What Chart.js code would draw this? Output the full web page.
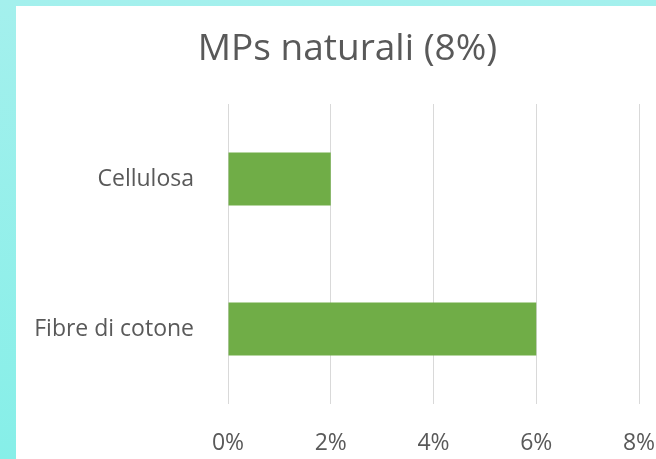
<!DOCTYPE html>
<html>
<head>
<meta charset="utf-8">
<script src="https://cdn.jsdelivr.net/npm/chart.js@4"></script>
<style>
  html, body { margin: 0; padding: 0; }
  body {
    width: 656px; height: 459px; overflow: hidden;
    background: linear-gradient(to bottom, #a4f0ed, #86efe8);
    position: relative;
  }
  #wrap {
    position: absolute; left: 16px; top: 6px;
    width: 663px; height: 453px; background: #ffffff;
  }
</style>
</head>
<body>
<div id="wrap"><canvas id="chart" width="663" height="453"></canvas></div>
<script>
// Share of natural microplastics by type (percent)
const categories = ['Cellulosa', 'Fibre di cotone'];
const shares = [2, 6];
const tickValues = [0, 2, 4, 6, 8];
const chartTitle = 'MPs naturali (8%)';

const FONT = "'Open Sans', 'DejaVu Sans', sans-serif";
const TEXT = '#595959';
const GRID = '#d9d9d9';

new Chart(document.getElementById('chart'), {
  type: 'bar',
  data: {
    labels: categories,
    datasets: [{
      data: shares,
      backgroundColor: '#70ad47',
      borderWidth: 0,
      categoryPercentage: 1,
      barPercentage: 0.353
    }]
  },
  options: {
    indexAxis: 'y',
    responsive: false,
    animation: false,
    layout: { padding: 0 },
    plugins: {
      legend: { display: false },
      tooltip: { enabled: false },
      title: {
        display: true,
        text: chartTitle,
        color: TEXT,
        font: { family: FONT, size: 37, weight: 'normal', lineHeight: 1.2 },
        padding: { top: 21, bottom: 32.6 }
      }
    },
    scales: {
      x: {
        min: 0,
        max: 8,
        afterBuildTicks: (axis) => { axis.ticks = tickValues.map(v => ({ value: v })); },
        ticks: {
          color: TEXT,
          padding: 26,
          font: { family: FONT, size: 23 },
          callback: (v) => v + '%'
        },
        grid: { color: GRID, lineWidth: 1, drawTicks: false },
        border: { display: false },
        afterFit: (axis) => { axis.height = 55; axis.paddingRight = 40; }
      },
      y: {
        ticks: {
          color: TEXT,
          padding: 34,
          font: { family: FONT, size: 23 }
        },
        grid: { display: false, drawTicks: false },
        border: { display: false },
        afterFit: (axis) => { axis.width = 212; }
      }
    }
  }
});
</script>
</body>
</html>
